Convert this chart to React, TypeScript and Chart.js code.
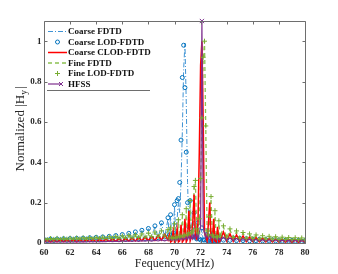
import { useEffect, useRef } from "react";
import { Chart, registerables } from "chart.js";
Chart.register(...registerables);

// Frequency samples (MHz)
const freq = [
  60, 60.25, 60.5, 60.75, 61, 61.25, 61.5, 61.75, 62, 62.25, 62.5, 62.75, 63, 63.25, 63.5, 63.75,
  64, 64.25, 64.5, 64.75, 65, 65.25, 65.5, 65.75, 66, 66.25, 66.5, 66.75, 67, 67.25, 67.5, 67.75,
  68, 68.25, 68.5, 68.75, 69, 69.25, 69.5,
  69.6, 69.7, 69.8, 69.9, 70, 70.1, 70.2, 70.3, 70.4, 70.5, 70.6, 70.7, 70.8, 70.9, 71, 71.1, 71.2,
  71.3, 71.4, 71.5, 71.6, 71.7, 71.8, 71.9, 72, 72.1, 72.2, 72.3, 72.4, 72.5, 72.6, 72.7, 72.8, 72.9,
  73, 73.1, 73.2, 73.3, 73.4,
  73.5, 73.75, 74, 74.25, 74.5, 74.75, 75, 75.25, 75.5, 75.75, 76, 76.25, 76.5, 76.75, 77, 77.25,
  77.5, 77.75, 78, 78.25, 78.5, 78.75, 79, 79.25, 79.5, 79.75, 80,
];

const coarseFdtd = [
  0.016, 0.01, 0.018, 0.011, 0.019, 0.012, 0.02, 0.012, 0.021, 0.013, 0.022, 0.013, 0.023, 0.014, 0.025, 0.014,
  0.027, 0.015, 0.029, 0.015, 0.032, 0.016, 0.036, 0.016, 0.041, 0.017, 0.047, 0.018, 0.054, 0.019, 0.062, 0.02,
  0.071, 0.022, 0.083, 0.024, 0.098, 0.028, 0.12,
  0.03, 0.13, 0.02, 0.04, 0.18, 0.03, 0.12, 0.2, 0.15, 0.3, 0.55, 0.86, 0.99, 0.7, 0.3, 0.08, 0.22,
  0.06, 0.02, 0.14, 0.02, 0.01, 0.09, 0.01, 0.01, 0.07, 0.01, 0.01, 0.055, 0.01, 0.008, 0.045, 0.008, 0.008,
  0.038, 0.007, 0.007, 0.033, 0.007,
  0.03, 0.012, 0.026, 0.011, 0.023, 0.011, 0.021, 0.01, 0.019, 0.01, 0.018, 0.009, 0.016, 0.009, 0.015, 0.009,
  0.014, 0.008, 0.013, 0.008, 0.013, 0.008, 0.012, 0.008, 0.011, 0.007, 0.011,
];

const coarseLod = [
  0.018, 0.012, 0.02, 0.013, 0.02, 0.014, 0.021, 0.014, 0.022, 0.015, 0.023, 0.015, 0.024, 0.016, 0.026, 0.016,
  0.028, 0.017, 0.03, 0.017, 0.033, 0.018, 0.037, 0.018, 0.042, 0.019, 0.048, 0.02, 0.055, 0.021, 0.063, 0.022,
  0.072, 0.024, 0.085, 0.026, 0.1, 0.03, 0.125,
  0.04, 0.14, 0.03, 0.05, 0.19, 0.04, 0.21, 0.22, 0.3, 0.51, 0.82, 0.98, 0.77, 0.45, 0.2, 0.08, 0.21,
  0.07, 0.03, 0.15, 0.03, 0.02, 0.1, 0.02, 0.015, 0.075, 0.015, 0.015, 0.06, 0.012, 0.012, 0.05, 0.01, 0.01,
  0.042, 0.01, 0.01, 0.036, 0.01,
  0.032, 0.014, 0.028, 0.013, 0.025, 0.012, 0.023, 0.012, 0.021, 0.011, 0.019, 0.011, 0.018, 0.01, 0.017, 0.01,
  0.016, 0.01, 0.015, 0.009, 0.014, 0.009, 0.013, 0.009, 0.013, 0.008, 0.012,
];

const coarseClod = [
  0.005, 0.012, 0.005, 0.012, 0.006, 0.013, 0.006, 0.013, 0.006, 0.014, 0.006, 0.014, 0.007, 0.015, 0.007, 0.016,
  0.007, 0.017, 0.008, 0.018, 0.008, 0.019, 0.009, 0.02, 0.009, 0.022, 0.01, 0.024, 0.01, 0.026, 0.011, 0.029,
  0.012, 0.033, 0.013, 0.037, 0.014, 0.043, 0.015,
  0.04, 0.005, 0.01, 0.06, 0.005, 0.01, 0.07, 0.005, 0.01, 0.09, 0.005, 0.015, 0.12, 0.005, 0.02, 0.16, 0.01,
  0.03, 0.1, 0.24, 0.03, 0.02, 0.1, 0.45, 0.88, 1.0, 0.6, 0.05, 0.03, 0.01, 0.1, 0.2, 0.02, 0.005,
  0.12, 0.01, 0.005, 0.08, 0.005,
  0.01, 0.055, 0.01, 0.045, 0.008, 0.04, 0.008, 0.035, 0.007, 0.03, 0.007, 0.027, 0.006, 0.024, 0.006, 0.022,
  0.005, 0.02, 0.005, 0.018, 0.005, 0.016, 0.004, 0.015, 0.004, 0.014, 0.004,
];

const fineFdtd = [
  0.02, 0.015, 0.021, 0.016, 0.021, 0.016, 0.022, 0.017, 0.022, 0.017, 0.023, 0.018, 0.024, 0.018, 0.025, 0.019,
  0.026, 0.02, 0.027, 0.02, 0.028, 0.021, 0.03, 0.022, 0.032, 0.023, 0.034, 0.024, 0.037, 0.025, 0.04, 0.026,
  0.044, 0.028, 0.048, 0.03, 0.053, 0.032, 0.06,
  0.02, 0.07, 0.02, 0.02, 0.09, 0.02, 0.02, 0.11, 0.02, 0.03, 0.13, 0.03, 0.03, 0.16, 0.03, 0.04, 0.2,
  0.04, 0.05, 0.27, 0.3, 0.06, 0.04, 0.1, 0.3, 0.6, 0.9, 1.0, 0.55, 0.05, 0.03, 0.12, 0.22, 0.03,
  0.02, 0.15, 0.02, 0.02, 0.1,
  0.03, 0.08, 0.025, 0.065, 0.025, 0.055, 0.022, 0.048, 0.02, 0.042, 0.02, 0.037, 0.018, 0.034, 0.018, 0.031,
  0.017, 0.029, 0.016, 0.027, 0.016, 0.025, 0.015, 0.024, 0.015, 0.023, 0.014,
];

const fineLod = [
  0.022, 0.017, 0.022, 0.018, 0.023, 0.018, 0.023, 0.019, 0.024, 0.019, 0.025, 0.02, 0.026, 0.02, 0.027, 0.021,
  0.028, 0.022, 0.029, 0.022, 0.031, 0.023, 0.033, 0.024, 0.035, 0.025, 0.038, 0.026, 0.041, 0.027, 0.045, 0.029,
  0.049, 0.031, 0.054, 0.033, 0.06, 0.035, 0.066,
  0.025, 0.075, 0.025, 0.025, 0.095, 0.025, 0.03, 0.115, 0.03, 0.035, 0.14, 0.035, 0.04, 0.17, 0.04, 0.05, 0.21,
  0.05, 0.06, 0.28, 0.31, 0.07, 0.05, 0.12, 0.32, 0.62, 0.92, 1.0, 0.58, 0.06, 0.04, 0.13, 0.23, 0.04,
  0.03, 0.16, 0.03, 0.03, 0.11,
  0.035, 0.085, 0.03, 0.07, 0.028, 0.06, 0.025, 0.052, 0.023, 0.045, 0.022, 0.04, 0.02, 0.036, 0.02, 0.033,
  0.019, 0.031, 0.018, 0.029, 0.018, 0.027, 0.017, 0.026, 0.017, 0.025, 0.016,
];

const hfss = [
  0.006, 0.005, 0.006, 0.005, 0.006, 0.005, 0.006, 0.005, 0.007, 0.005, 0.007, 0.006, 0.007, 0.006, 0.008, 0.006,
  0.008, 0.006, 0.008, 0.007, 0.009, 0.007, 0.009, 0.007, 0.01, 0.008, 0.01, 0.008, 0.011, 0.008, 0.012, 0.009,
  0.013, 0.009, 0.014, 0.01, 0.015, 0.011, 0.016,
  0.012, 0.018, 0.013, 0.02, 0.013, 0.022, 0.014, 0.024, 0.015, 0.026, 0.016, 0.028, 0.017, 0.03, 0.018, 0.033, 0.019,
  0.036, 0.02, 0.04, 0.022, 0.045, 0.025, 0.05, 0.08, 1.1, 0.08, 0.05, 0.025, 0.045, 0.022, 0.04, 0.02,
  0.035, 0.019, 0.032, 0.018, 0.03, 0.017,
  0.016, 0.028, 0.015, 0.025, 0.014, 0.023, 0.013, 0.021, 0.012, 0.019, 0.012, 0.018, 0.011, 0.017, 0.011, 0.016,
  0.01, 0.015, 0.01, 0.014, 0.01, 0.013, 0.009, 0.013, 0.009, 0.012, 0.009,
];

const xTicks = [60, 62, 64, 66, 68, 70, 72, 74, 76, 78, 80];
const yTicks = [0, 0.2, 0.4, 0.6, 0.8, 1];
const yTickLabels = ["0", "0.2", "0.4", "0.6", "0.8", "1"];
const legendLabels = ["Coarse FDTD", "Coarse LOD-FDTD", "Coarse CLOD-FDTD", "Fine FDTD", "Fine LOD-FDTD", "HFSS"];

const SERIF = '"Liberation Serif", "Times New Roman", serif';
const C_BLUE_LINE = "#3f93d4";
const C_BLUE = "#0072BD";
const C_RED = "#FF0000";
const C_GREEN_LINE = "#8cc152";
const C_GREEN = "#77AC30";
const C_PURPLE = "#7E2F8E";
const AXIS = "#6e6e6e";

const toXY = (vals: number[]) => freq.map((f, i) => ({ x: f, y: vals[i] }));

const matlabPlugin = {
  id: "matlabAxes",
  afterDraw(chart: any) {
    const { ctx, chartArea: a, scales } = chart;
    const xs = scales.x;
    const ys = scales.y;
    const L = Math.round(a.left) + 0.5;
    const R = Math.round(a.right) + 0.5;
    const T = Math.round(a.top) + 0.5;
    const B = Math.round(a.bottom) + 0.5;
    ctx.save();
    ctx.strokeStyle = AXIS;
    ctx.lineWidth = 1;
    ctx.setLineDash([]);
    ctx.beginPath();
    ctx.moveTo(L, T); ctx.lineTo(R, T); ctx.lineTo(R, B); ctx.lineTo(L, B); ctx.closePath();
    ctx.stroke();
    const tl = 3;
    ctx.beginPath();
    xTicks.forEach((v) => {
      const px = Math.round(xs.getPixelForValue(v)) + 0.5;
      ctx.moveTo(px, B); ctx.lineTo(px, B - tl);
      ctx.moveTo(px, T); ctx.lineTo(px, T + tl);
    });
    yTicks.forEach((v) => {
      const py = Math.round(ys.getPixelForValue(v)) + 0.5;
      ctx.moveTo(L, py); ctx.lineTo(L + tl, py);
      ctx.moveTo(R, py); ctx.lineTo(R - tl, py);
    });
    ctx.stroke();
    ctx.fillStyle = "#262626";
    ctx.font = `bold 9px ${SERIF}`;
    ctx.textAlign = "center";
    ctx.textBaseline = "middle";
    xTicks.forEach((v) => {
      ctx.fillText(String(v), xs.getPixelForValue(v), B + 9);
    });
    ctx.textAlign = "right";
    yTicks.forEach((v, i) => {
      ctx.fillText(yTickLabels[i], L - 3, ys.getPixelForValue(v));
    });
    ctx.font = `12px ${SERIF}`;
    ctx.textAlign = "center";
    ctx.fillText("Fequency(MHz)", (a.left + a.right) / 2, B + 20);
    ctx.save();
    ctx.translate(21, 129);
    ctx.rotate(-Math.PI / 2);
    const main = "Normalized |H";
    const sub = "y";
    const tail = "|";
    ctx.font = `13px ${SERIF}`;
    const wMain = ctx.measureText(main).width;
    const wTail = ctx.measureText(tail).width;
    ctx.font = `9.5px ${SERIF}`;
    const wSub = ctx.measureText(sub).width;
    const total = wMain + wSub + wTail + 1;
    let cx = -total / 2;
    ctx.textAlign = "left";
    ctx.font = `13px ${SERIF}`;
    ctx.fillText(main, cx, 0);
    cx += wMain;
    ctx.font = `9.5px ${SERIF}`;
    ctx.fillText(sub, cx, 3);
    cx += wSub + 1;
    ctx.font = `13px ${SERIF}`;
    ctx.fillText(tail, cx, 0);
    ctx.restore();

    const lx0 = 48, lx1 = 67, tx = 68;
    const mx = 57.5;
    ctx.font = `bold 9px ${SERIF}`;
    ctx.textAlign = "left";
    ctx.textBaseline = "middle";
    legendLabels.forEach((lab, i) => {
      const ly = 31.5 + i * 10.5;
      ctx.save();
      if (i === 0) {
        ctx.strokeStyle = C_BLUE_LINE; ctx.lineWidth = 1; ctx.setLineDash([5, 2, 1, 2]);
        ctx.beginPath(); ctx.moveTo(lx0, ly); ctx.lineTo(lx1, ly); ctx.stroke();
      } else if (i === 1) {
        ctx.strokeStyle = C_BLUE; ctx.lineWidth = 1;
        ctx.beginPath(); ctx.arc(mx, ly, 2, 0, Math.PI * 2); ctx.stroke();
      } else if (i === 2) {
        ctx.strokeStyle = C_RED; ctx.lineWidth = 1.5;
        ctx.beginPath(); ctx.moveTo(lx0, ly); ctx.lineTo(lx1, ly); ctx.stroke();
      } else if (i === 3) {
        ctx.strokeStyle = C_GREEN_LINE; ctx.lineWidth = 1.3; ctx.setLineDash([4, 3]);
        ctx.beginPath(); ctx.moveTo(lx0, ly); ctx.lineTo(lx1, ly); ctx.stroke();
      } else if (i === 4) {
        ctx.strokeStyle = C_GREEN; ctx.lineWidth = 1;
        ctx.beginPath(); ctx.moveTo(mx - 2.5, ly); ctx.lineTo(mx + 2.5, ly);
        ctx.moveTo(mx, ly - 2.5); ctx.lineTo(mx, ly + 2.5); ctx.stroke();
      } else {
        ctx.strokeStyle = C_PURPLE; ctx.lineWidth = 1.2;
        ctx.beginPath(); ctx.moveTo(lx0, ly); ctx.lineTo(lx1 - 5, ly); ctx.stroke();
        const ux = lx1 - 6;
        ctx.lineWidth = 1;
        ctx.beginPath(); ctx.moveTo(ux - 2, ly - 2); ctx.lineTo(ux + 2, ly + 2);
        ctx.moveTo(ux - 2, ly + 2); ctx.lineTo(ux + 2, ly - 2); ctx.stroke();
      }
      ctx.restore();
      ctx.fillStyle = "#111";
      ctx.fillText(lab, tx, ly + 0.5);
    });
    ctx.strokeStyle = AXIS;
    ctx.lineWidth = 1;
    ctx.setLineDash([]);
    ctx.beginPath();
    ctx.moveTo(47, 90.5); ctx.lineTo(150, 90.5);
    ctx.stroke();
    ctx.restore();
  },
};

export default function App() {
  const ref = useRef<HTMLCanvasElement | null>(null);
  useEffect(() => {
    if (!ref.current) return;
    const chart = new Chart(ref.current, {
      type: "line",
      data: {
        datasets: [
          {
            label: "Fine LOD-FDTD",
            data: toXY(fineLod),
            showLine: false,
            pointStyle: "cross",
            pointRadius: 2.5,
            pointBorderColor: C_GREEN,
            pointBackgroundColor: C_GREEN,
            pointBorderWidth: 1,
            borderColor: C_GREEN,
            order: 0,
          },
          {
            label: "HFSS",
            data: toXY(hfss),
            borderColor: C_PURPLE,
            borderWidth: 1.2,
            pointStyle: "crossRot",
            pointRadius: (c: any) => (c.raw && c.raw.y > 0.5 ? 3 : 0),
            pointBorderColor: C_PURPLE,
            pointBorderWidth: 1,
            clip: false,
            order: 1,
          },
          {
            label: "Coarse CLOD-FDTD",
            data: toXY(coarseClod),
            borderColor: C_RED,
            borderWidth: 1.5,
            pointRadius: 0,
            order: 2,
          },
          {
            label: "Fine FDTD",
            data: toXY(fineFdtd),
            borderColor: C_GREEN_LINE,
            borderWidth: 1.3,
            borderDash: [4, 3],
            pointRadius: 0,
            order: 3,
          },
          {
            label: "Coarse LOD-FDTD",
            data: toXY(coarseLod),
            showLine: false,
            pointStyle: "circle",
            pointRadius: 2,
            pointBorderColor: C_BLUE,
            pointBackgroundColor: "rgba(0,0,0,0)",
            pointBorderWidth: 1,
            borderColor: C_BLUE,
            order: 4,
          },
          {
            label: "Coarse FDTD",
            data: toXY(coarseFdtd),
            borderColor: C_BLUE_LINE,
            borderWidth: 1,
            borderDash: [5, 2, 1, 2],
            pointRadius: 0,
            order: 5,
          },
        ] as any,
      },
      options: {
        responsive: false,
        animation: false,
        devicePixelRatio: 1,
        layout: { padding: { left: 44, top: 21, right: 33, bottom: 31 } },
        plugins: { legend: { display: false }, tooltip: { enabled: false } },
        elements: { line: { tension: 0, fill: false } },
        scales: {
          x: { type: "linear", min: 60, max: 80, display: false },
          y: { type: "linear", min: 0, max: 1.1, display: false },
        },
      } as any,
      plugins: [matlabPlugin],
    });
    return () => chart.destroy();
  }, []);
  return (
    <div style={{ position: "fixed", left: 0, top: 0, width: 338, height: 274, background: "#fff" }}>
      <canvas ref={ref} width={338} height={274} />
    </div>
  );
}
